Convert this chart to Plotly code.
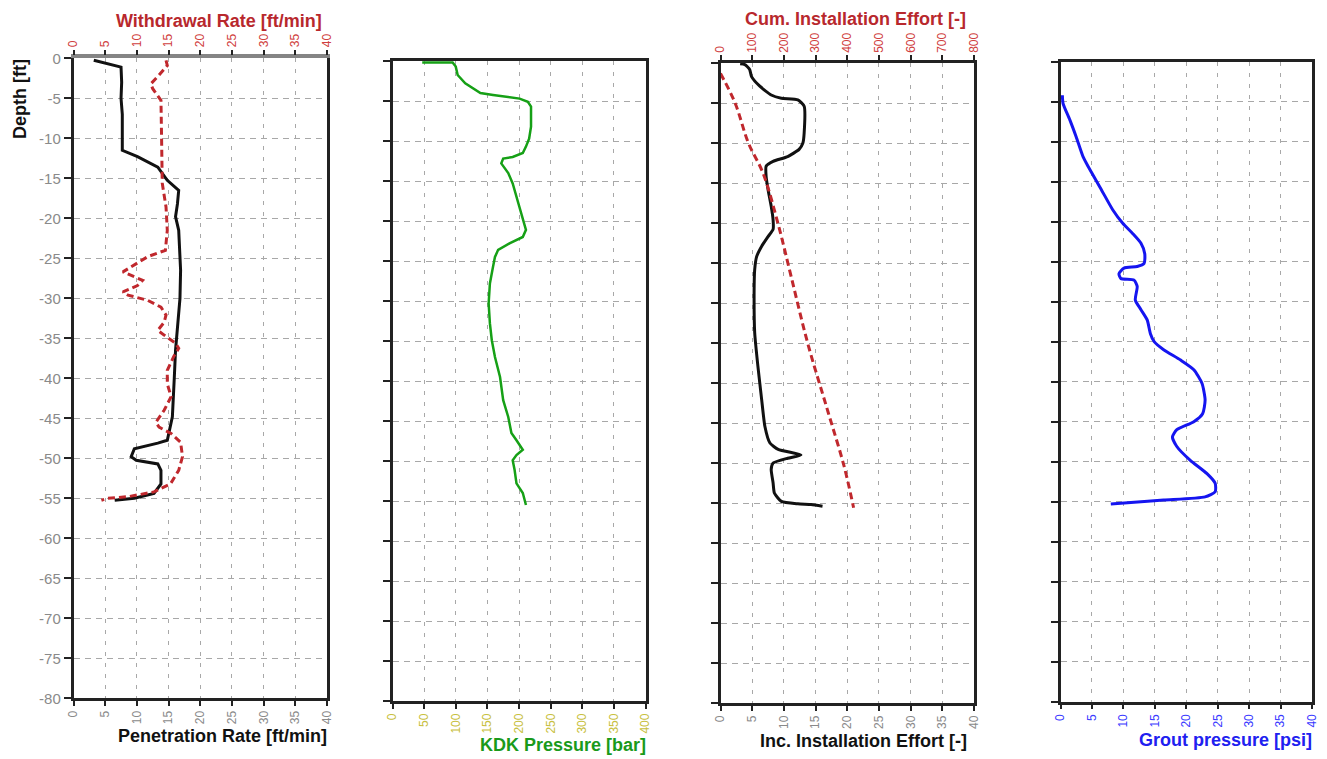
import plotly.graph_objects as go

W, H = 1327, 759

# ---------------- data ----------------
pen_depth = [-0.25, -0.5, -1.1, -3, -5, -7, -9, -11.5, -12.3, -13.6, -15.25, -16.5, -18.2, -19.8,
             -21.5, -26.5, -30, -36.5, -40, -44.8, -47.75, -48.1, -48.8, -49.8, -50.25, -50.7,
             -51.5, -53.2, -54.4, -55, -55.25]
pen_rate = [3.2, 4.5, 7.5, 7.6, 7.5, 7.7, 7.7, 7.7, 10.1, 13.3, 14.8, 16.6, 16.4, 16.1,
            16.6, 16.9, 16.8, 16.1, 15.9, 15.6, 14.8, 13.3, 9.6, 9.1, 9.9, 13.3,
            13.8, 13.8, 12.7, 9.6, 6.5]

wd_depth = [-0.25, -0.9, -2.1, -3.2, -3.8, -4.6, -5.25, -10, -15.6, -18.6, -21.5, -24, -24.8,
            -26.7, -27.1, -27.75, -28.4, -29.2, -29.6, -30.25, -31.1, -32.1, -33, -34, -34.6,
            -35.6, -36.25, -37.3, -39, -40.7, -42.3, -44, -45.5, -46.1, -46.9, -48, -49.8,
            -51.5, -53.2, -54.2, -54.8, -55.0, -55.25]
wd_rate = [14.6, 14.8, 13.5, 12.2, 12.5, 13.3, 13.8, 13.9, 14.0, 14.6, 14.8, 14.5, 11.7,
           7.8, 9.1, 10.9, 10.1, 7.8, 8.6, 11.7, 13.8, 14.6, 14.3, 13.3, 14.3,
           16.1, 16.6, 15.8, 14.8, 14.8, 15.4, 14.3, 13.0, 13.5, 15.4, 16.9, 17.2,
           16.6, 15.3, 12.7, 8.6, 5.4, 4.4]

kdk_depth = [-0.2, -0.2, -0.7, -1.75, -2.8, -4, -4.25, -4.7, -5.1, -5.7, -8.2, -9.7, -10.7, -11.5,
             -12, -12.2, -12.8, -14, -15.3, -17, -18.6, -19.9, -21.1, -22, -22.8, -23.6, -24.5,
             -25.7, -27.8, -30.3, -32.8, -34.9, -37, -39.5, -42.4, -44.5, -46.5, -47.4, -48.6,
             -49.25, -49.9, -51.1, -52.8, -54, -55.5]
kdk_pressure = [47, 95, 100, 103, 115, 139, 159, 201, 214, 219, 219, 216, 211, 206,
                190, 175, 172, 183, 190, 196, 201, 206, 211, 206, 185, 167, 162,
                159, 154, 152, 154, 157, 162, 170, 175, 183, 188, 196, 206,
                196, 190, 193, 196, 206, 211]

inc_depth = [-0.1, -0.2, -0.8, -1.7, -2.9, -4, -4.4, -4.6, -5.4, -8.75, -10, -10.8, -11.7, -12.3,
             -12.9, -14.2, -15.8, -17.9, -19.6, -20.8, -21.7, -22.9, -24.2, -25.8, -29.6, -33.75,
             -37.9, -42.1, -45.4, -47.5, -48.3, -49, -49.4, -50, -50.8, -52.5, -53.75, -54.8,
             -55.1, -55.2, -55.4]
inc_effort = [3.1, 3.85, 4.6, 4.9, 6.2, 8, 9.6, 12.2, 13.2, 13.2, 13, 12.4, 10.6, 8.3,
              7.2, 7.2, 7.5, 8, 8.3, 8.3, 7.5, 6.5, 5.7, 5.4, 5.3, 5.4,
              5.9, 6.5, 7, 7.8, 9.1, 12.7, 10.6, 8.3, 8, 8.3, 8.5, 9.6,
              12.2, 14.3, 16.1]

cum_depth = [-1.3, -5, -10, -13.75, -20, -26.7, -35, -43.3, -50.4, -55.6]
cum_effort = [0, 46, 88, 134, 181, 223, 275, 337, 390, 420]

grout_depth = [-4.2, -5.2, -7.3, -9.4, -11.9, -13.1, -16, -18.5, -20.2, -21.5, -22.7, -24, -25.2,
               -25.6, -25.8, -26.5, -27.1, -27.3, -28.1, -29.8, -31, -32.3, -34, -35, -36, -37.3,
               -38.5, -40.2, -42.3, -44, -45, -46, -46.9, -48.1, -49.8, -51.5, -52.7, -53.75,
               -54.4, -54.8, -55.1, -55.3]
grout_pressure = [0.3, 0.4, 1.5, 2.5, 3.6, 4.4, 6.5, 8.3, 9.9, 11.5, 12.8, 13.4, 13.3,
                  12.2, 10.1, 9.3, 9.6, 11.7, 12.2, 11.9, 12.8, 13.8, 14.3, 14.9, 16.4, 19.1,
                  21.2, 22.5, 23, 22.6, 21.2, 18.5, 17.8, 18.5, 20.6, 23.3, 24.6, 24.6,
                  23, 16.4, 11.2, 8]

depth_ticks = list(range(0, -85, -5))
depth_labels = [str(v) for v in depth_ticks]
rate_ticks = list(range(0, 45, 5))
kdk_ticks = list(range(0, 450, 50))
cum_ticks = list(range(0, 900, 100))

# ---------------- layout helpers ----------------
FONT = "Liberation Sans, Arial, sans-serif"
# panel pixel boxes: (left, right, top, bottom)
P = [(73.5, 327, 58.3, 698.3), (392.5, 645.5, 61, 701), (720.5, 974, 63, 703), (1060.5, 1312, 61.7, 701.7)]


def xd(p):
    return [p[0] / W, p[1] / W]


def yd(p):
    return [1 - p[3] / H, 1 - p[2] / H]


AX = "#222222"
GRID = "#a8a8a8"

fig = go.Figure()
fig.add_trace(go.Scatter(x=pen_rate, y=pen_depth, mode="lines", xaxis="x", yaxis="y",
                         line=dict(color="#111111", width=3)))
fig.add_trace(go.Scatter(x=wd_rate, y=wd_depth, mode="lines", xaxis="x5", yaxis="y",
                         line=dict(color="#c0282d", width=3, dash="7px,4px")))
fig.add_trace(go.Scatter(x=kdk_pressure, y=kdk_depth, mode="lines", xaxis="x2", yaxis="y2",
                         line=dict(color="#16a016", width=2.5)))
fig.add_trace(go.Scatter(x=inc_effort, y=inc_depth, mode="lines", xaxis="x3", yaxis="y3",
                         line=dict(color="#111111", width=3, shape="spline", smoothing=0.5)))
fig.add_trace(go.Scatter(x=cum_effort, y=cum_depth, mode="lines", xaxis="x6", yaxis="y3",
                         line=dict(color="#c0282d", width=3, dash="7px,4px", shape="spline")))
fig.add_trace(go.Scatter(x=grout_pressure, y=grout_depth, mode="lines", xaxis="x4", yaxis="y4",
                         line=dict(color="#1515f0", width=3, shape="spline", smoothing=0.6)))


def xaxis_cfg(p, rng, ticks, tickcolor, mirror, anchor):
    return dict(domain=xd(p), range=rng, tickvals=ticks, ticktext=[str(t) for t in ticks],
                tickangle=-90, ticks="outside", ticklen=5, tickwidth=2, tickcolor=AX,
                tickfont=dict(family=FONT, size=12, color=tickcolor),
                showline=True, linecolor=AX, linewidth=2.5, mirror=mirror,
                showgrid=True, gridcolor=GRID, griddash="4px,7px", gridwidth=1,
                zeroline=False, anchor=anchor, fixedrange=True, automargin=False)


def yaxis_cfg(p, labels, anchor):
    return dict(domain=yd(p), range=[-80, 0], tickvals=depth_ticks, ticktext=depth_labels,
                showticklabels=labels, ticks="outside", ticklen=7, tickwidth=2, tickcolor=AX,
                tickfont=dict(family=FONT, size=15, color="#8a8a8a"),
                showline=True, linecolor=AX, linewidth=2.5, mirror=True,
                showgrid=True, gridcolor=GRID, griddash="6px,5px", gridwidth=1,
                zeroline=False, fixedrange=True, anchor=anchor, automargin=False)


def top_axis_cfg(p, rng, ticks, tickcolor, base, anchor, linecolor, lw):
    return dict(domain=xd(p), range=rng, tickvals=ticks, ticktext=[str(t) for t in ticks],
                tickangle=-90, ticks="outside", ticklen=5, tickwidth=2, tickcolor=AX,
                tickfont=dict(family=FONT, size=12, color=tickcolor),
                showline=True, linecolor=linecolor, linewidth=lw, side="top",
                overlaying=base, anchor=anchor,
                showgrid=False, zeroline=False, fixedrange=True, automargin=False)


fig.update_layout(
    width=W, height=H, margin=dict(l=0, r=0, t=0, b=0, pad=0, autoexpand=False),
    paper_bgcolor="white", plot_bgcolor="white", showlegend=False,
    xaxis=xaxis_cfg(P[0], [0, 40], rate_ticks, "#8a8a8a", False, "y"),
    xaxis2=xaxis_cfg(P[1], [0, 400], kdk_ticks, "#c8c040", True, "y2"),
    xaxis3=xaxis_cfg(P[2], [0, 40], rate_ticks, "#8a8a8a", False, "y3"),
    xaxis4=xaxis_cfg(P[3], [0, 40], rate_ticks, "#3a3aff", True, "y4"),
    xaxis5=top_axis_cfg(P[0], [0, 40], rate_ticks, "#d04040", "x", "y", "#858585", 3.5),
    xaxis6=top_axis_cfg(P[2], [0, 800], cum_ticks, "#d04040", "x3", "y3", AX, 2.5),
    yaxis=yaxis_cfg(P[0], True, "x"),
    yaxis2=yaxis_cfg(P[1], False, "x2"),
    yaxis3=yaxis_cfg(P[2], False, "x3"),
    yaxis4=yaxis_cfg(P[3], False, "x4"),
)


def ann(text, xpx, ypx, color, xanchor="right", angle=0, yanchor="middle", size=18):
    fig.add_annotation(text=text, x=xpx / W, y=1 - ypx / H, xref="paper", yref="paper",
                       xanchor=xanchor, yanchor=yanchor, showarrow=False, textangle=angle,
                       font=dict(family=FONT, size=size, color=color))


ann("<b>Withdrawal Rate [ft/min]</b>", 324, 21, "#b8282d")
ann("<b>Cum. Installation Effort [-]</b>", 968, 19, "#b8282d")
ann("<b>Penetration Rate [ft/min]</b>", 329, 736, "#111111")
ann("<b>KDK Pressure [bar]</b>", 648, 745, "#1a9a1a")
ann("<b>Inc. Installation Effort [-]</b>", 969, 741, "#111111")
ann("<b>Grout pressure [psi]</b>", 1314, 740, "#2020f0")
ann("<b>Depth [ft]</b>", 20, 57, "#111111", xanchor="center", angle=-90, yanchor="top")

fig.write_html("out.html")
